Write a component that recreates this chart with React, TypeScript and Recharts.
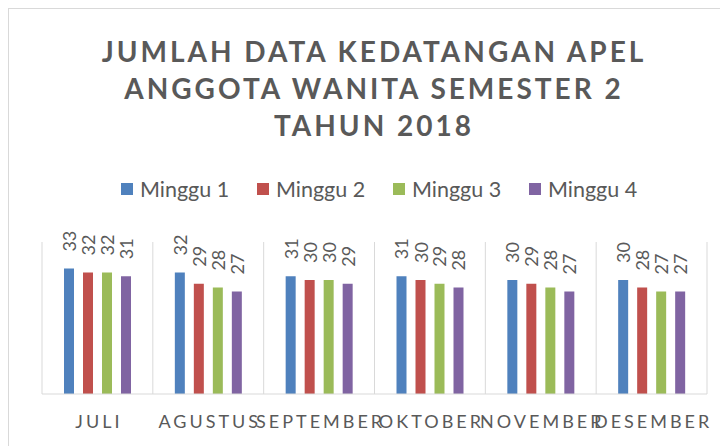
import { Bar, BarChart, CartesianGrid, LabelList, Legend, XAxis, YAxis } from 'recharts'

const MONTHS = ['JULI', 'AGUSTUS', 'SEPTEMBER', 'OKTOBER', 'NOVEMBER', 'DESEMBER']

const MINGGU_1 = [33, 32, 31, 31, 30, 30]
const MINGGU_2 = [32, 29, 30, 30, 29, 28]
const MINGGU_3 = [32, 28, 30, 29, 28, 27]
const MINGGU_4 = [31, 27, 29, 28, 27, 27]

const SERIES_NAMES = ['Minggu 1', 'Minggu 2', 'Minggu 3', 'Minggu 4']
const COLORS = ['#4F81BD', '#C0504D', '#9BBB59', '#8064A2']

const TITLE_LINES = ['JUMLAH DATA KEDATANGAN APEL', 'ANGGOTA WANITA SEMESTER 2', 'TAHUN 2018']

const TEXT = '#595959'
const GRID = '#d9d9d9'
const FONT = 'Lato, "Open Sans", sans-serif'

const data = MONTHS.map((month, i) => ({
  month,
  m1: MINGGU_1[i],
  m2: MINGGU_2[i],
  m3: MINGGU_3[i],
  m4: MINGGU_4[i],
}))

const KEYS = ['m1', 'm2', 'm3', 'm4']

function ValueLabel(props: any) {
  const { x, y, width, value } = props
  const cx = Number(x) + Number(width) / 2
  const top = Number(y) - 17
  return (
    <text
      x={cx}
      y={top}
      transform={`rotate(-90 ${cx} ${top})`}
      textAnchor="start"
      dominantBaseline="central"
      fill={TEXT}
      fontSize={18}
      fontFamily={FONT}
    >
      {value}
    </text>
  )
}

function MonthTick(props: any) {
  const { x, y, payload } = props
  return (
    <text
      x={x + 1.5}
      y={y}
      dy={26}
      textAnchor="middle"
      fill={TEXT}
      fontSize={18}
      fontFamily={FONT}
      style={{ letterSpacing: '3px' }}
    >
      {payload.value}
    </text>
  )
}

function LegendBox({ payload }: any) {
  return (
    <div style={{ display: 'flex', fontFamily: FONT, fontSize: 21.5, color: TEXT }}>
      {(payload || []).map((item: any) => (
        <div key={item.value} style={{ width: 136, display: 'flex', alignItems: 'center' }}>
          <span
            style={{
              width: 12,
              height: 12,
              background: item.color,
              marginRight: 7,
              display: 'inline-block',
            }}
          />
          <span>{item.value}</span>
        </div>
      ))}
    </div>
  )
}

export default function App() {
  return (
    <div style={{ position: 'relative', width: 720, height: 438, overflow: 'hidden', background: '#fff' }}>
      <div
        style={{
          position: 'absolute',
          left: 0,
          top: 0,
          width: 760,
          height: 480,
          border: `1px solid ${GRID}`,
          boxSizing: 'border-box',
        }}
      />
      <div
        style={{
          position: 'absolute',
          left: 0,
          top: 25,
          width: 732,
          textAlign: 'center',
          fontFamily: FONT,
          fontWeight: 700,
          fontSize: 28,
          lineHeight: '37px',
          letterSpacing: '3px',
          color: TEXT,
        }}
      >
        {TITLE_LINES.map((line) => (
          <div key={line}>{line}</div>
        ))}
      </div>
      <div style={{ position: 'absolute', left: 0, top: 0 }}>
        <BarChart
          width={720}
          height={438}
          data={data}
          margin={{ top: 234, right: 21, bottom: 22, left: 34 }}
          barSize={10}
          barGap={9}
        >
          <CartesianGrid
            horizontal={false}
            stroke={GRID}
            verticalCoordinatesGenerator={({ offset }: any) =>
              MONTHS.map((_, i) => offset.left + (i * offset.width) / MONTHS.length).concat(
                offset.left + offset.width,
              )
            }
          />
          <XAxis
            dataKey="month"
            height={30}
            axisLine={{ stroke: GRID }}
            tickLine={false}
            interval={0}
            tick={<MonthTick />}
          />
          <YAxis hide domain={[0, 40]} />
          <Legend
            layout="horizontal"
            verticalAlign="middle"
            content={<LegendBox />}
            wrapperStyle={{ top: 168, left: 113, width: 'auto' }}
          />
          {KEYS.map((key, i) => (
            <Bar
              key={key}
              dataKey={key}
              name={SERIES_NAMES[i]}
              fill={COLORS[i]}
              isAnimationActive={false}
            >
              <LabelList dataKey={key} content={<ValueLabel />} />
            </Bar>
          ))}
        </BarChart>
      </div>
    </div>
  )
}
